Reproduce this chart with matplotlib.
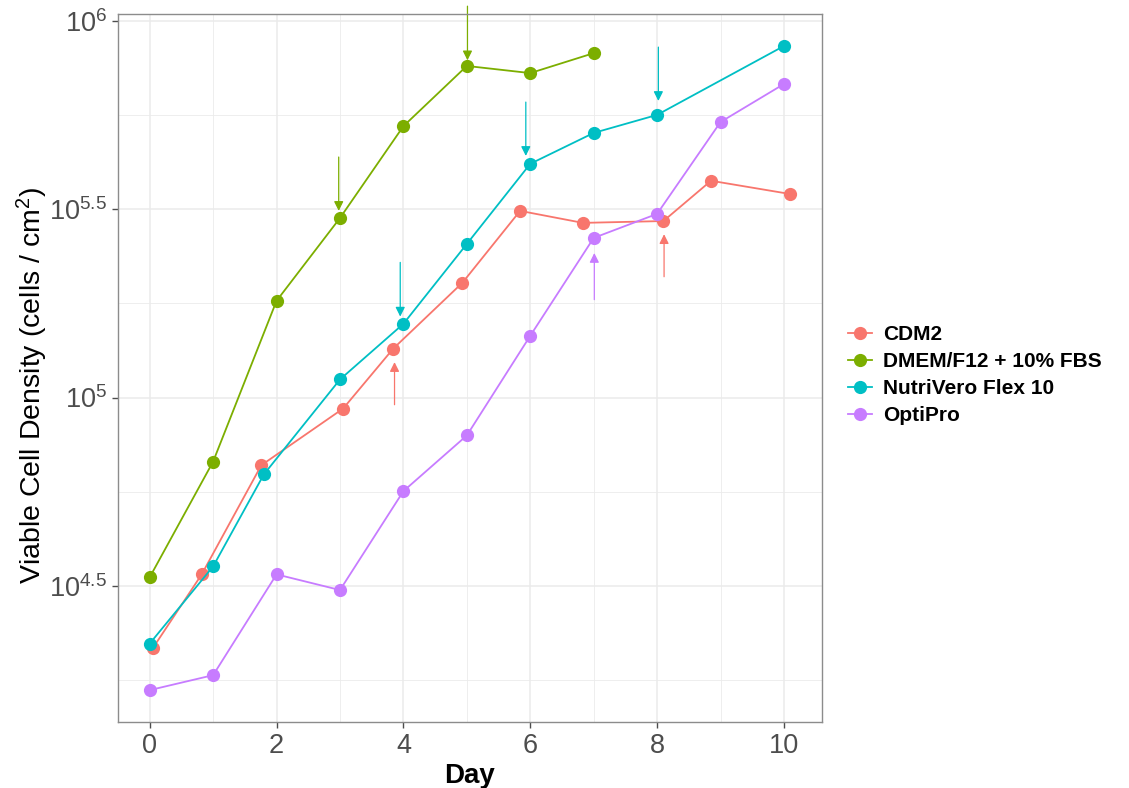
import matplotlib
matplotlib.use("Agg")
import matplotlib.pyplot as plt
from matplotlib.ticker import FixedLocator, NullFormatter
from matplotlib.lines import Line2D

# ---------------- data ----------------
series_names = ["CDM2", "DMEM/F12 + 10% FBS", "NutriVero Flex 10", "OptiPro"]
series_colors = ["#F8766D", "#7CAE00", "#00BFC4", "#C77CFF"]

cdm2_day = [0.05, 0.82, 1.76, 3.05, 3.84, 4.93, 5.84, 6.83, 8.10, 8.85, 10.09]
cdm2_vcd = [21600, 33900, 66100, 93500, 134900, 201800, 313300, 291100, 294400, 376700, 347500]

dmem_day = [0, 1, 2, 3, 4, 5, 6, 7]
dmem_vcd = [33300, 67600, 180700, 299900, 526000, 760300, 727800, 822200]

nutri_day = [0, 1, 1.80, 3, 4, 5, 6, 7, 8, 10]
nutri_vcd = [22200, 35600, 62500, 111700, 157000, 255900, 417800, 504700, 563600, 859000]

opti_day = [0, 1, 2, 3, 4, 5, 6, 7, 8, 9, 10]
opti_vcd = [16700, 18300, 33900, 30800, 56400, 79300, 145900, 265500, 307600, 539500, 680800]

# feeding arrows: series index, day, start value (tail), end value (tip)
arrow_series = [1, 1, 2, 2, 2, 0, 0, 3]
arrow_day = [2.98, 5.01, 3.95, 5.93, 8.02, 3.86, 8.11, 7.01]
arrow_from = [435500, 1096000, 228600, 609500, 853100, 95700, 209400, 182000]
arrow_to = [313300, 787000, 164100, 438500, 613800, 124200, 271600, 242100]

x_ticks = [0, 2, 4, 6, 8, 10]
x_minor = [1, 3, 5, 7, 9]
y_ticks = [10**4.5, 10**5, 10**5.5, 10**6]
y_tick_labels = [r"$10^{4.5}$", r"$10^{5}$", r"$10^{5.5}$", r"$10^{6}$"]
y_minor = [10**4.25, 10**4.75, 10**5.25, 10**5.75]

# ---------------- style ----------------
plt.rcParams["font.family"] = ["Liberation Sans", "DejaVu Sans"]
plt.rcParams["mathtext.fontset"] = "custom"
plt.rcParams["mathtext.rm"] = "Liberation Sans"
plt.rcParams["mathtext.it"] = "Liberation Sans:italic"
plt.rcParams["mathtext.bf"] = "Liberation Sans:bold"
plt.rcParams["mathtext.default"] = "regular"

fig = plt.figure(figsize=(11.29, 7.88), dpi=100)
ax = fig.add_axes([118 / 1129, 1 - 722 / 788, (822 - 118) / 1129, (722 - 14) / 788])

days = [cdm2_day, dmem_day, nutri_day, opti_day]
vals = [cdm2_vcd, dmem_vcd, nutri_vcd, opti_vcd]

for d, v, c, n in zip(days, vals, series_colors, series_names):
    ax.plot(d, v, color=c, lw=1.3, marker="o", markersize=9.5,
            markeredgewidth=0, label=n, zorder=3)

for s, d, a0, a1 in zip(arrow_series, arrow_day, arrow_from, arrow_to):
    ax.annotate("", xy=(d, a1), xytext=(d, a0), annotation_clip=False,
                arrowprops=dict(arrowstyle="-|>", color=series_colors[s], lw=0.9,
                                shrinkA=0, shrinkB=0, mutation_scale=14),
                zorder=2)

ax.set_yscale("log")
ax.set_xlim(-0.5, 10.6)
ax.set_ylim(10**4.138, 10**6.019)

ax.xaxis.set_major_locator(FixedLocator(x_ticks))
ax.xaxis.set_minor_locator(FixedLocator(x_minor))
ax.yaxis.set_major_locator(FixedLocator(y_ticks))
ax.yaxis.set_minor_locator(FixedLocator(y_minor))
ax.set_xticklabels([str(t) for t in x_ticks])
ax.set_yticklabels(y_tick_labels)
ax.yaxis.set_minor_formatter(NullFormatter())
ax.xaxis.set_minor_formatter(NullFormatter())

ax.grid(which="major", color="#EBEBEB", lw=1.1, zorder=0)
ax.grid(which="minor", color="#EBEBEB", lw=0.6, zorder=0)
ax.set_axisbelow(True)

for sp in ax.spines.values():
    sp.set_color("#8C8C8C")
    sp.set_linewidth(1.0)

ax.tick_params(which="major", length=4, width=1, color="#4D4D4D",
               labelcolor="#4D4D4D", labelsize=19.5, pad=4)
ax.tick_params(which="minor", length=0)

ax.set_xlabel("Day", fontsize=20, fontweight="bold", labelpad=3)
ax.set_ylabel(r"Viable Cell Density (cells / cm$^{2}$)", fontsize=20.5)
ax.yaxis.set_label_coords(-0.097, 0.475)

handles = [Line2D([0], [0], color=c, lw=1.3, marker="o", markersize=9.5,
                  markeredgewidth=0) for c in series_colors]
leg = fig.legend(handles, series_names, loc="center left",
                 bbox_to_anchor=(838 / 1129, 1 - 375 / 788), frameon=False,
                 borderpad=0, handlelength=1.15, handletextpad=0.5,
                 labelspacing=0.39, prop=dict(size=15, weight="bold"))

fig.savefig("out.png", dpi=100)
